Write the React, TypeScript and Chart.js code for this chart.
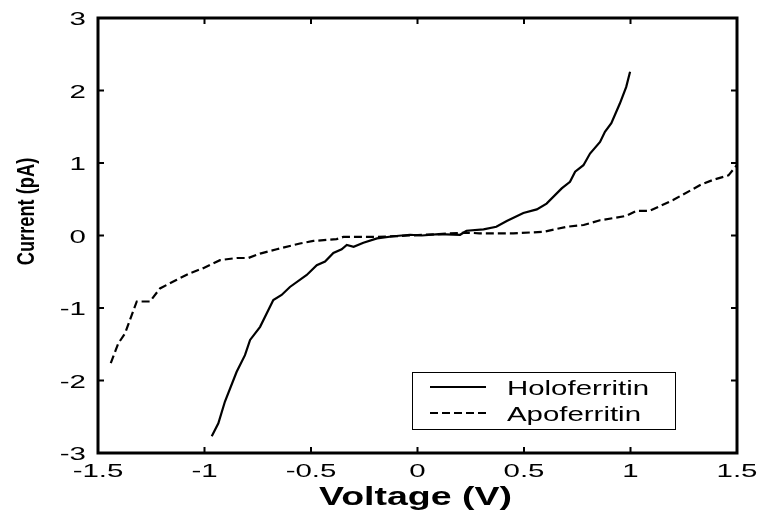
import React, { useEffect, useRef } from 'react';
import { Chart, registerables } from 'chart.js';

Chart.register(...registerables);

// Holoferritin I-V curve
const holoV = [-0.966, -0.935, -0.904, -0.849, -0.81, -0.786, -0.739, -0.677, -0.638, -0.599, -0.52, -0.473, -0.434, -0.395, -0.356, -0.332, -0.3, -0.254, -0.19, -0.113, -0.035, 0.02, 0.1, 0.2, 0.23, 0.31, 0.37, 0.419, 0.497, 0.56, 0.606, 0.677, 0.716, 0.74, 0.779, 0.81, 0.857, 0.88, 0.91, 0.95, 0.98, 0.998];
const holoI = [-2.77, -2.59, -2.29, -1.88, -1.65, -1.44, -1.26, -0.89, -0.82, -0.71, -0.545, -0.41, -0.36, -0.24, -0.19, -0.13, -0.155, -0.1, -0.04, -0.01, 0.01, 0.0, 0.02, 0.01, 0.066, 0.085, 0.12, 0.2, 0.31, 0.36, 0.44, 0.65, 0.74, 0.88, 0.97, 1.13, 1.29, 1.43, 1.55, 1.82, 2.05, 2.26];

// Apoferritin I-V curve
const apoV = [-1.44, -1.405, -1.373, -1.318, -1.256, -1.209, -1.13, -1.068, -1.006, -0.927, -0.849, -0.794, -0.739, -0.661, -0.552, -0.489, -0.38, -0.348, -0.19, -0.035, 0.1, 0.23, 0.29, 0.45, 0.59, 0.7, 0.78, 0.857, 0.98, 1.029, 1.09, 1.2, 1.33, 1.39, 1.46, 1.499];
const apoI = [-1.76, -1.49, -1.35, -0.91, -0.91, -0.73, -0.61, -0.52, -0.45, -0.34, -0.31, -0.31, -0.25, -0.19, -0.11, -0.075, -0.05, -0.02, -0.02, 0.0, 0.02, 0.04, 0.03, 0.03, 0.05, 0.12, 0.145, 0.21, 0.27, 0.34, 0.34, 0.49, 0.7, 0.77, 0.83, 0.97];

const xTicks = [-1.5, -1, -0.5, 0, 0.5, 1, 1.5];
const xTickLabels = ['-1.5', '-1', '-0.5', '0', '0.5', '1', '1.5'];
const yTicks = [-3, -2, -1, 0, 1, 2, 3];
const yTickLabels = ['-3', '-2', '-1', '0', '1', '2', '3'];
const seriesLabels = ['Holoferritin', 'Apoferritin'];
const xTitle = 'Voltage (V)';
const yTitle = 'Current (pA)';

const FONT = '"Liberation Sans", Arial, Helvetica, sans-serif';

const framePlugin = {
  id: 'matlabFrame',
  afterDraw(chart: any) {
    const ctx = chart.ctx as CanvasRenderingContext2D;
    const { left, right, top, bottom } = chart.chartArea;
    const xs = chart.scales.x;
    const ys = chart.scales.y;
    ctx.save();
    ctx.strokeStyle = '#000';
    ctx.setLineDash([]);
    // inward tick marks on all four sides
    ctx.lineWidth = 2;
    ctx.beginPath();
    xs.ticks.forEach((t: any) => {
      const px = xs.getPixelForValue(t.value);
      ctx.moveTo(px, bottom);
      ctx.lineTo(px, bottom - 6);
      ctx.moveTo(px, top);
      ctx.lineTo(px, top + 6);
    });
    ys.ticks.forEach((t: any) => {
      const py = ys.getPixelForValue(t.value);
      ctx.moveTo(left, py);
      ctx.lineTo(left + 6, py);
      ctx.moveTo(right, py);
      ctx.lineTo(right - 6, py);
    });
    ctx.stroke();
    // frame
    ctx.lineWidth = 3;
    ctx.strokeRect(left, top, right - left, bottom - top);

    // tick labels (horizontally stretched like the original)
    ctx.fillStyle = '#000';
    ctx.font = `19px ${FONT}`;
    ctx.textBaseline = 'alphabetic';
    xs.ticks.forEach((t: any) => {
      const px = xs.getPixelForValue(t.value);
      const label = xTickLabels[xTicks.indexOf(t.value)] ?? String(t.value);
      ctx.save();
      ctx.textAlign = 'center';
      ctx.translate(px, bottom + 24);
      ctx.scale(1.55, 1);
      ctx.fillText(label, 0, 0);
      ctx.restore();
    });
    ys.ticks.forEach((t: any) => {
      const py = ys.getPixelForValue(t.value);
      const label = yTickLabels[yTicks.indexOf(t.value)] ?? String(t.value);
      ctx.save();
      ctx.textAlign = 'right';
      ctx.translate(left - 12, py + 7);
      ctx.scale(1.55, 1);
      ctx.fillText(label, 0, 0);
      ctx.restore();
    });

    // legend box
    const bx = left + 314;
    const by = top + 354;
    const bw = 263;
    const bh = 57;
    ctx.fillStyle = '#fff';
    ctx.fillRect(bx, by, bw, bh);
    ctx.lineWidth = 1;
    ctx.strokeRect(bx + 0.5, by + 0.5, bw, bh);
    const ds = chart.data.datasets;
    const rows = [15, 41];
    ds.forEach((d: any, i: number) => {
      const ly = by + rows[i];
      ctx.save();
      ctx.lineWidth = 2;
      ctx.setLineDash(d.borderDash || []);
      ctx.beginPath();
      ctx.moveTo(bx + 18, ly);
      ctx.lineTo(bx + 74, ly);
      ctx.stroke();
      ctx.restore();
      ctx.save();
      ctx.fillStyle = '#000';
      ctx.font = `21px ${FONT}`;
      ctx.textAlign = 'left';
      ctx.textBaseline = 'alphabetic';
      ctx.translate(bx + 95, ly + 8);
      ctx.scale(1.4, 1);
      ctx.fillText(d.label, 0, 0);
      ctx.restore();
    });

    // x title
    ctx.save();
    ctx.fillStyle = '#000';
    ctx.font = `bold 25px ${FONT}`;
    ctx.textAlign = 'center';
    ctx.textBaseline = 'alphabetic';
    ctx.translate((left + right) / 2 - 2, bottom + 52);
    ctx.scale(1.5, 1);
    ctx.fillText(xTitle, 0, 0);
    ctx.restore();

    // y title
    ctx.save();
    ctx.fillStyle = '#000';
    ctx.font = `bold 24px ${FONT}`;
    ctx.textAlign = 'center';
    ctx.textBaseline = 'alphabetic';
    ctx.translate(34, (top + bottom) / 2 - 24);
    ctx.rotate(-Math.PI / 2);
    ctx.scale(0.76, 1);
    ctx.fillText(yTitle, 0, 0);
    ctx.restore();

    ctx.restore();
  },
};

export default function App() {
  const canvasRef = useRef<HTMLCanvasElement | null>(null);

  useEffect(() => {
    document.body.style.margin = '0';
    const canvas = canvasRef.current;
    if (!canvas) return;
    Chart.defaults.font.family = FONT;
    const chart = new Chart(canvas, {
      type: 'line',
      data: {
        datasets: [
          {
            label: seriesLabels[0],
            data: holoV.map((v, i) => ({ x: v, y: holoI[i] })),
            borderColor: '#000',
            borderWidth: 2.2,
            pointRadius: 0,
            tension: 0,
            fill: false,
          },
          {
            label: seriesLabels[1],
            data: apoV.map((v, i) => ({ x: v, y: apoI[i] })),
            borderColor: '#000',
            borderWidth: 2.2,
            borderDash: [8, 4],
            pointRadius: 0,
            tension: 0,
            fill: false,
          },
        ],
      },
      options: {
        animation: false,
        responsive: false,
        maintainAspectRatio: false,
        devicePixelRatio: 1,
        layout: { padding: { left: 0, top: 18, right: 23, bottom: 0 } },
        plugins: {
          legend: { display: false },
          tooltip: { enabled: false },
          title: { display: false },
        },
        scales: {
          x: {
            type: 'linear',
            min: -1.5,
            max: 1.5,
            afterBuildTicks: (scale: any) => {
              scale.ticks = xTicks.map((v) => ({ value: v }));
            },
            afterFit: (scale: any) => {
              scale.height = 61;
            },
            grid: { display: false, drawTicks: false },
            border: { display: false },
            ticks: { display: false },
          },
          y: {
            type: 'linear',
            min: -3,
            max: 3,
            afterBuildTicks: (scale: any) => {
              scale.ticks = yTicks.map((v) => ({ value: v }));
            },
            afterFit: (scale: any) => {
              scale.width = 98;
            },
            grid: { display: false, drawTicks: false },
            border: { display: false },
            ticks: { display: false },
          },
        },
      },
      plugins: [framePlugin],
    } as any);
    return () => chart.destroy();
  }, []);

  return (
    <div style={{ width: 760, height: 514, background: '#fff' }}>
      <canvas ref={canvasRef} width={760} height={514} style={{ display: 'block' }} />
    </div>
  );
}
